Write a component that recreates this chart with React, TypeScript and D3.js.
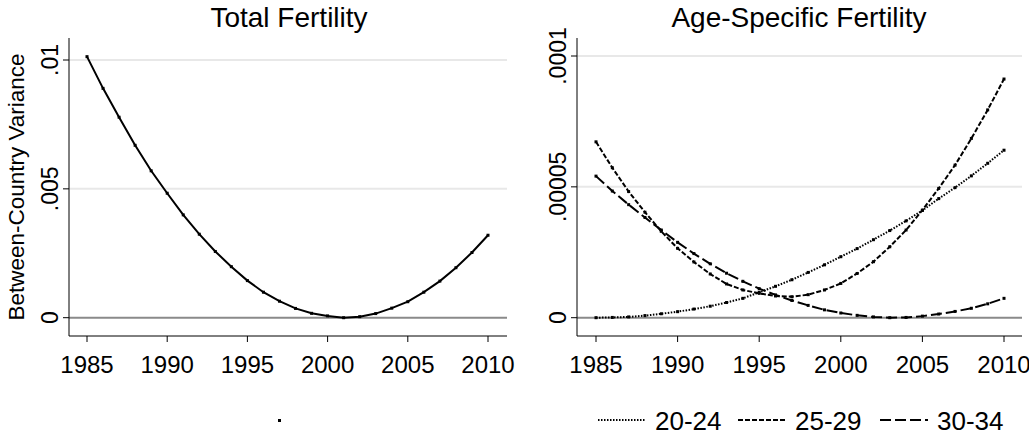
import React from "react";
import * as d3 from "d3";

const years = d3.range(1985, 2011);
const totalVar = [10.13, 8.9, 7.78, 6.69, 5.7, 4.83, 3.99, 3.24, 2.57, 1.98, 1.44, 0.99, 0.64, 0.36, 0.17, 0.07, 0, 0.04, 0.16, 0.37, 0.62, 0.99, 1.42, 1.94, 2.53, 3.2]; // e-3
const a2024 = [0, 0.1, 0.3, 0.8, 1.5, 2.3, 3.3, 4.4, 5.8, 7.4, 9.7, 12, 14.5, 17.3, 20.2, 23.3, 26.4, 29.8, 33.3, 37, 41, 45.5, 49.7, 54.2, 59, 64]; // e-6
const a2529 = [67.2, 57.3, 48.2, 40.3, 33, 26.5, 21.3, 16.7, 12.9, 10.6, 9.3, 8.3, 8.0, 8.8, 10.6, 13.1, 16.9, 21.4, 27.1, 33.5, 41.1, 49.4, 58.3, 68.5, 79.4, 91.2];
const a3034 = [54.1, 48.4, 43.2, 38.3, 33.5, 28.8, 24.5, 20.6, 17, 13.9, 11.1, 8.7, 6.6, 4.7, 3, 1.8, 0.9, 0.3, 0, 0.1, 0.6, 1.4, 2.4, 3.6, 5.3, 7.4];
const xTicks = [1985, 1990, 1995, 2000, 2005, 2010];
const leftYTicks = [0, 0.005, 0.01];
const leftYLabels = ["0", ".005", ".01"];
const rightYTicks = [0, 0.00005, 0.0001];
const rightYLabels = ["0", ".00005", ".0001"];
const legendLabels = ["20-24", "25-29", "30-34"];
const dashes = ["1.5,1.5", "5,2", "11,4"];

const font = "'Liberation Sans', Arial, sans-serif";

function Panel({ x1985, x2010, axisX, right, y0, yTop, yTopVal, ticks, labels, series, title, titleX }) {
  const xs = d3.scaleLinear().domain([1985, 2010]).range([x1985, x2010]);
  const ys = d3.scaleLinear().domain([0, yTopVal]).range([y0, yTop]);
  const line = d3.line<number>().x((_, i) => xs(years[i])).y((d) => ys(d));
  const axisY = 336;
  return (
    <g>
      <text x={titleX} y={27} fontSize={28} textAnchor="middle" fontFamily={font}>{title}</text>
      {ticks.map((t, i) => (
        <g key={i}>
          <line x1={axisX} x2={right} y1={ys(t)} y2={ys(t)} stroke={t === 0 ? "#8a8a8a" : "#e8e8e8"} strokeWidth={2} />
          <line x1={axisX - 6} x2={axisX} y1={ys(t)} y2={ys(t)} stroke="#000" />
          <text transform={`translate(${axisX - 11},${ys(t)}) rotate(-90)`} textAnchor="middle" fontSize={23} fontFamily={font}>{labels[i]}</text>
        </g>
      ))}
      <line x1={axisX} x2={axisX} y1={38} y2={axisY} stroke="#000" />
      <line x1={axisX} x2={right} y1={axisY} y2={axisY} stroke="#000" />
      {xTicks.map((t) => (
        <g key={t}>
          <line x1={xs(t)} x2={xs(t)} y1={axisY} y2={axisY + 6} stroke="#000" />
          <text x={xs(t)} y={373} textAnchor="middle" fontSize={24} fontFamily={font}>{t}</text>
        </g>
      ))}
      {series.map((s, k) => (
        <g key={k}>
          <path d={line(s.values) || ""} fill="none" stroke="#000" strokeWidth={2} strokeDasharray={s.dash} />
          {s.values.map((v, i) => (
            <rect key={i} x={xs(years[i]) - 1.5} y={ys(v) - 1.5} width={3} height={3} fill="#000" />
          ))}
        </g>
      ))}
    </g>
  );
}

export default function App() {
  return (
    <svg width={1029} height={434} style={{ position: "absolute", left: 0, top: 0, background: "#fff" }}>
      <rect width={1029} height={434} fill="#fff" />
      <text transform="translate(24,187) rotate(-90)" textAnchor="middle" fontSize={22.5} fontFamily={font}>Between-Country Variance</text>
      <Panel x1985={87} x2010={488} axisX={69} right={507} y0={317.7} yTop={60} yTopVal={0.01}
        ticks={leftYTicks} labels={leftYLabels} title="Total Fertility" titleX={289}
        series={[{ values: totalVar.map((v) => v / 1000), dash: null }]} />
      <Panel x1985={596} x2010={1004} axisX={577} right={1022} y0={317.7} yTop={56} yTopVal={0.0001}
        ticks={rightYTicks} labels={rightYLabels} title="Age-Specific Fertility" titleX={799}
        series={[a2024, a2529, a3034].map((a, k) => ({ values: a.map((v) => v / 1e6), dash: dashes[k] }))} />
      <rect x={278} y={419} width={3} height={3} fill="#000" />
      {legendLabels.map((l, k) => {
        const lx = [598, 738, 880][k];
        return (
          <g key={l}>
            <line x1={lx} x2={lx + 48} y1={420} y2={420} stroke="#000" strokeWidth={2} strokeDasharray={dashes[k]} />
            <text x={lx + 57} y={430} fontSize={26} fontFamily={font}>{l}</text>
          </g>
        );
      })}
    </svg>
  );
}
